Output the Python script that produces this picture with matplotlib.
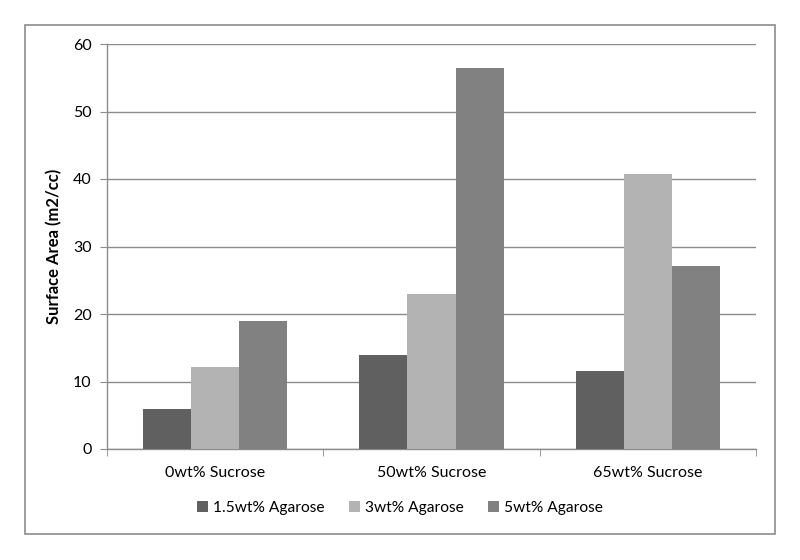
import matplotlib
matplotlib.use("Agg")
import matplotlib.pyplot as plt
import numpy as np
from matplotlib.patches import Rectangle

categories = ["0wt% Sucrose", "50wt% Sucrose", "65wt% Sucrose"]
series_names = ["1.5wt% Agarose", "3wt% Agarose", "5wt% Agarose"]
agarose_15 = [6.0, 13.9, 11.5]
agarose_3 = [12.2, 22.9, 40.7]
agarose_5 = [18.9, 56.5, 27.1]
yticks = [0, 10, 20, 30, 40, 50, 60]

colors = ["#606060", "#b3b3b3", "#818181"]
plt.rcParams['font.family'] = ['Lato', 'DejaVu Sans']

W, H = 800, 560
fig = plt.figure(figsize=(W/100, H/100), dpi=100)
# outer border
fig.patches.append(Rectangle((25/W, 1-534/H), 750/W, 509/H, transform=fig.transFigure,
                             fill=False, edgecolor="#8c8c8c", linewidth=1.2))
ax = fig.add_axes([107/W, 1-449/H, (756-107)/W, (449-44)/H])

x = np.arange(len(categories))
bw = 1/4.5
for i, vals in enumerate([agarose_15, agarose_3, agarose_5]):
    ax.bar(x + (i-1)*bw, vals, width=bw, color=colors[i], label=series_names[i], zorder=3)

ax.set_xlim(-0.5, 2.5)
ax.set_ylim(0, 60)
ax.set_yticks(yticks)
ax.tick_params(axis='y', length=5, color="#8c8c8c", labelsize=11.5, pad=6)
ax.set_xticks(x)
ax.set_xticklabels(categories)
ax.tick_params(axis='x', length=0, labelsize=11.5, pad=12)
ax.set_xticks([-0.5, 0.5, 1.5, 2.5], minor=True)
ax.tick_params(axis='x', which='minor', length=5, color="#8c8c8c")
ax.yaxis.grid(True, color="#8c8c8c", linewidth=1.0, zorder=0)
ax.set_axisbelow(True)
for s in ['top', 'right']:
    ax.spines[s].set_visible(False)
for s in ['left', 'bottom']:
    ax.spines[s].set_color("#8c8c8c")
    ax.spines[s].set_linewidth(1.0)
ax.set_ylabel("Surface Area (m2/cc)", fontsize=12, fontweight='bold', labelpad=8)

fig.legend(loc='center', bbox_to_anchor=(0.5, 1-508/H), ncol=3, frameon=False,
           fontsize=11.2, handlelength=0.7, handleheight=0.7, handletextpad=0.3,
           columnspacing=1.6)

fig.savefig("out.png", dpi=100)
